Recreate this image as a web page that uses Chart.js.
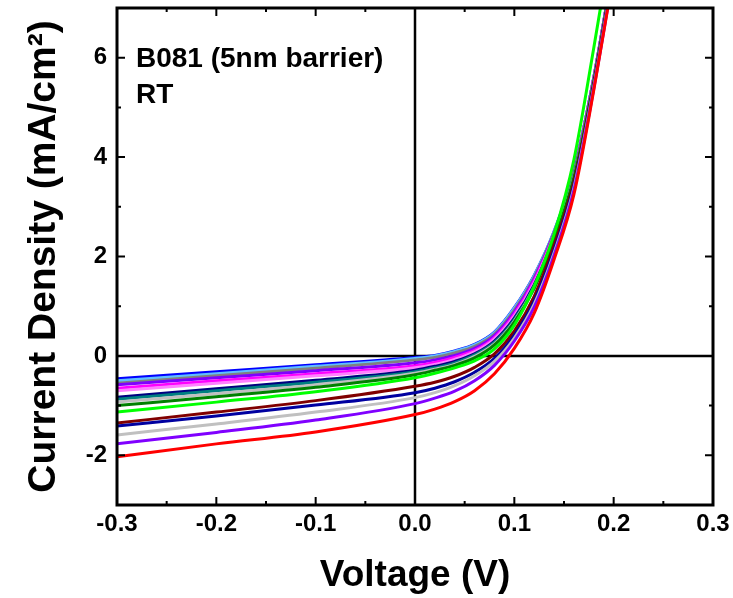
<!DOCTYPE html>
<html><head><meta charset="utf-8">
<script src="https://cdn.jsdelivr.net/npm/chart.js@4.4.1/dist/chart.umd.min.js"></script>
<style>html,body{margin:0;padding:0;background:#fff}canvas{display:block}</style>
</head><body>
<canvas id="c" width="733" height="598"></canvas>
<script>
// ---- data ----
const voltage = [-0.3, -0.2, -0.1, 0, 0.02, 0.04, 0.06, 0.08, 0.1, 0.12, 0.14, 0.16, 0.18, 0.2];

const blue       = [-0.46, -0.32, -0.18, -0.03,  0.01,  0.10,  0.23,  0.48, 0.97, 1.62, 2.50, 3.72, 5.60, 7.9];
const lightBlue  = [-0.50, -0.36, -0.21, -0.05,  0.00,  0.09,  0.22,  0.47, 0.96, 1.61, 2.50, 3.72, 5.60, 7.9];
const gray       = [-0.55, -0.40, -0.25, -0.08, -0.03,  0.06,  0.19,  0.44, 0.92, 1.58, 2.48, 3.71, 5.60, 7.9];
const violet     = [-0.58, -0.44, -0.30, -0.14, -0.08,  0.01,  0.15,  0.41, 0.88, 1.55, 2.46, 3.70, 5.59, 7.9];
const magenta    = [-0.65, -0.50, -0.36, -0.20, -0.13, -0.03,  0.11,  0.37, 0.84, 1.51, 2.44, 3.69, 5.58, 7.9];
const pink       = [-0.70, -0.55, -0.40, -0.24, -0.17, -0.07,  0.08,  0.34, 0.80, 1.47, 2.42, 3.67, 5.57, 7.88];
const navy       = [-0.83, -0.66, -0.49, -0.29, -0.21, -0.11,  0.04,  0.30, 0.76, 1.43, 2.39, 3.65, 5.55, 7.86];
const teal       = [-0.87, -0.70, -0.53, -0.32, -0.24, -0.14,  0.02,  0.27, 0.73, 1.40, 2.37, 3.63, 5.54, 7.85];
const lightGray  = [-0.93, -0.76, -0.58, -0.35, -0.27, -0.17, -0.01,  0.24, 0.70, 1.38, 2.35, 3.61, 5.53, 7.85];
const darkGreen  = [-1.00, -0.82, -0.63, -0.38, -0.29, -0.19, -0.04,  0.22, 0.68, 1.36, 2.33, 3.59, 5.52, 7.84];
const green      = [-1.13, -0.93, -0.72, -0.44, -0.35, -0.24, -0.10,  0.14, 0.62, 1.40, 2.45, 3.95, 6.20, 8.6];
const maroon     = [-1.35, -1.13, -0.90, -0.61, -0.53, -0.41, -0.23,  0.04, 0.50, 1.20, 2.22, 3.50, 5.48, 7.8];
const navy2      = [-1.41, -1.21, -0.99, -0.74, -0.65, -0.52, -0.33, -0.05, 0.42, 1.10, 2.13, 3.43, 5.44, 7.78];
const lightGray2 = [-1.59, -1.37, -1.13, -0.84, -0.74, -0.60, -0.40, -0.11, 0.36, 1.04, 2.07, 3.38, 5.41, 7.75];
const violet2    = [-1.77, -1.54, -1.29, -0.96, -0.85, -0.71, -0.50, -0.19, 0.30, 0.98, 2.02, 3.33, 5.38, 7.72];
const red        = [-2.03, -1.77, -1.53, -1.18, -1.07, -0.92, -0.70, -0.36, 0.15, 0.86, 1.94, 3.25, 5.35, 7.7];

const xTicks = [-0.3, -0.2, -0.1, 0, 0.1, 0.2, 0.3];
const xMinorTicks = [-0.25, -0.15, -0.05, 0.05, 0.15, 0.25];
const yTicks = [-2, 0, 2, 4, 6];
const yMinorTicks = [-1, 1, 3, 5];
const annotationLines = ['B081 (5nm barrier)', 'RT'];

// ---- series styling ----
const seriesList = [
  [red, '#ff0000'], [violet2, '#8000ff'], [lightGray2, '#c0c0c0'], [navy2, '#0000a0'],
  [maroon, '#800000'], [green, '#00ff00'], [darkGreen, '#008000'], [lightGray, '#c0c0c0'],
  [teal, '#008080'], [navy, '#000080'], [pink, '#ff80ff'], [magenta, '#ff00ff'],
  [violet, '#8000ff'], [gray, '#808080'], [lightBlue, '#60c0ff'], [blue, '#0000ff']
];

const datasets = seriesList.map(([vals, col]) => ({
  data: voltage.map((v, i) => ({x: v, y: vals[i]})),
  borderColor: col,
  borderWidth: 3,
  pointRadius: 0,
  fill: false,
  cubicInterpolationMode: 'monotone',
  clip: 0
}));

const FONT = 'Liberation Sans, Arial, sans-serif';

const framePlugin = {
  id: 'framePlugin',
  beforeDatasetsDraw(chart) {
    const {ctx, chartArea: a, scales: {x, y}} = chart;
    ctx.save();
    ctx.strokeStyle = '#000';
    ctx.lineWidth = 2.5;
    const x0 = x.getPixelForValue(0), y0 = y.getPixelForValue(0);
    ctx.beginPath();
    ctx.moveTo(a.left, y0); ctx.lineTo(a.right, y0);
    ctx.moveTo(x0, a.top); ctx.lineTo(x0, a.bottom);
    ctx.stroke();
    ctx.restore();
  },
  afterDraw(chart) {
    const {ctx, chartArea: a, scales: {x, y}} = chart;
    ctx.save();
    ctx.strokeStyle = '#000';
    ctx.lineWidth = 2;
    const major = 8, minor = 4;
    ctx.beginPath();
    const xt = (vals, len) => vals.forEach(v => {
      const px = x.getPixelForValue(v);
      ctx.moveTo(px, a.bottom); ctx.lineTo(px, a.bottom - len);
      ctx.moveTo(px, a.top); ctx.lineTo(px, a.top + len);
    });
    const yt = (vals, len) => vals.forEach(v => {
      const py = y.getPixelForValue(v);
      ctx.moveTo(a.left, py); ctx.lineTo(a.left + len, py);
      ctx.moveTo(a.right, py); ctx.lineTo(a.right - len, py);
    });
    xt(xTicks, major); xt(xMinorTicks, minor);
    yt(yTicks, major); yt(yMinorTicks, minor);
    ctx.stroke();
    ctx.lineWidth = 3;
    ctx.strokeRect(a.left, a.top, a.right - a.left, a.bottom - a.top);
    // annotation
    ctx.fillStyle = '#000';
    ctx.font = 'bold 28px ' + FONT;
    ctx.textAlign = 'left';
    ctx.textBaseline = 'alphabetic';
    ctx.fillText(annotationLines[0], a.left + 19, a.top + 59);
    ctx.fillText(annotationLines[1], a.left + 19, a.top + 95);
    ctx.restore();
  }
};

new Chart(document.getElementById('c').getContext('2d'), {
  type: 'line',
  data: {datasets},
  options: {
    responsive: false,
    animation: false,
    events: [],
    layout: {padding: {top: 8, right: 20, bottom: 0, left: 0}},
    plugins: {legend: {display: false}, tooltip: {enabled: false}},
    scales: {
      x: {
        type: 'linear', min: -0.3, max: 0.3,
        afterBuildTicks: s => { s.ticks = xTicks.map(v => ({value: v})); },
        afterFit: s => { s.height = 93; s.paddingLeft = 0; s.paddingRight = 0; },
        grid: {display: false, drawTicks: false}, border: {display: false},
        ticks: {callback: v => Number(v).toFixed(1), color: '#000', padding: 5, maxRotation: 0, autoSkip: false,
                font: {family: FONT, weight: 'bold', size: 24}},
        title: {display: true, text: 'Voltage (V)', color: '#000', padding: {top: 0, bottom: 0},
                font: {family: FONT, weight: 'bold', size: 37}}
      },
      y: {
        type: 'linear', min: -3, max: 7,
        afterBuildTicks: s => { s.ticks = yTicks.map(v => ({value: v})); },
        afterFit: s => { s.width = 117; s.paddingTop = 0; s.paddingBottom = 0; },
        grid: {display: false, drawTicks: false}, border: {display: false},
        ticks: {color: '#000', padding: 10, font: {family: FONT, weight: 'bold', size: 24}},
        title: {display: true, text: 'Current Density (mA/cm²)', color: '#000', padding: {top: 21, bottom: 0},
                font: {family: FONT, weight: 'bold', size: 39}}
      }
    }
  },
  plugins: [framePlugin]
});
</script>
</body></html>
